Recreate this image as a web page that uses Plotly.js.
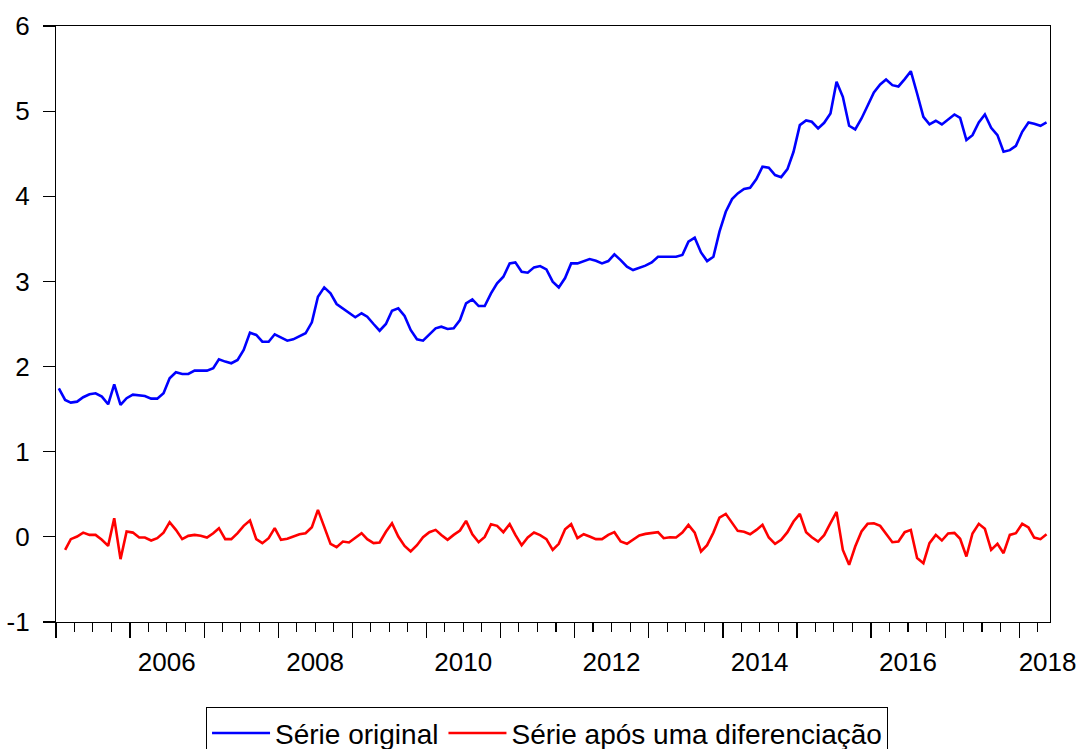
<!DOCTYPE html>
<html>
<head>
<meta charset="utf-8">
<script src="https://cdn.plot.ly/plotly-3.0.1.min.js"></script>
<style>html,body{margin:0;padding:0;background:#fff;}#chart{width:1083px;height:749px;}</style>
</head>
<body>
<div id="chart"></div>
<script>
// Monthly series starting January 2005
const startYear = 2005;
const seriesOriginal = [
1.745,1.608,1.577,1.588,1.640,1.675,1.686,1.647,1.557,1.792,1.549,1.628,
1.670,1.659,1.655,1.623,1.623,1.686,1.862,1.933,1.913,1.913,1.952,1.952,
1.952,1.980,2.085,2.058,2.039,2.077,2.195,2.398,2.371,2.292,2.292,2.379,
2.339,2.304,2.320,2.359,2.391,2.520,2.820,2.930,2.860,2.735,2.684,2.626,
2.579,2.626,2.586,2.500,2.421,2.500,2.656,2.684,2.594,2.430,2.320,2.304,
2.371,2.449,2.468,2.441,2.449,2.547,2.743,2.790,2.711,2.711,2.860,2.977,
3.055,3.212,3.224,3.114,3.102,3.165,3.180,3.142,2.997,2.930,3.040,3.212,
3.212,3.239,3.263,3.243,3.212,3.239,3.318,3.251,3.173,3.134,3.161,3.185,
3.224,3.290,3.290,3.290,3.290,3.310,3.466,3.513,3.341,3.239,3.290,3.584,
3.818,3.967,4.034,4.085,4.100,4.202,4.347,4.335,4.249,4.225,4.319,4.523,
4.836,4.890,4.875,4.797,4.863,4.973,5.344,5.168,4.828,4.785,4.914,5.063,
5.219,5.313,5.372,5.305,5.290,5.376,5.469,5.207,4.933,4.844,4.887,4.844,
4.906,4.961,4.922,4.660,4.718,4.867,4.961,4.804,4.718,4.523,4.542,4.593,
4.757,4.867,4.851,4.828,4.867
];
// Differenced series starts February 2005
const seriesDiff = [
-0.153,-0.027,0.004,0.050,0.023,0.023,-0.035,-0.106,0.219,-0.262,0.062,
0.050,-0.008,-0.008,-0.043,-0.016,0.050,0.172,0.082,-0.027,0.012,0.023,0.012,
-0.008,0.043,0.102,-0.027,-0.027,0.043,0.129,0.191,-0.027,-0.074,-0.016,0.102,
-0.035,-0.023,0.004,0.031,0.043,0.113,0.317,0.120,-0.082,-0.121,-0.055,-0.066,
-0.016,0.043,-0.027,-0.074,-0.066,0.060,0.160,0.004,-0.106,-0.172,-0.098,-0.004,
0.055,0.082,0.023,-0.035,0.023,0.074,0.188,0.031,-0.063,0.000,0.149,0.129,
0.055,0.149,0.023,-0.098,-0.008,0.050,0.020,-0.027,-0.153,-0.082,0.090,0.149,
-0.016,0.031,0.004,-0.027,-0.027,0.023,0.055,-0.055,-0.082,-0.035,0.016,0.035,
0.043,0.055,-0.016,-0.004,-0.008,0.050,0.141,0.050,-0.172,-0.098,0.050,0.227,
0.270,0.168,0.070,0.059,0.031,0.082,0.141,-0.008,-0.082,-0.035,0.055,0.180,
0.270,0.055,-0.004,-0.055,0.020,0.160,0.293,-0.153,-0.329,-0.114,0.063,0.153,
0.160,0.129,0.043,-0.063,-0.055,0.055,0.082,-0.250,-0.309,-0.074,0.023,-0.043,
0.040,0.047,-0.023,-0.231,0.040,0.153,0.094,-0.153,-0.082,-0.192,0.023,0.043,
0.153,0.110,-0.008,-0.027,0.031
];
const yearLabels = ['2006','2008','2010','2012','2014','2016','2018'];
const yearLabelPos = ['2006-07-01','2008-07-01','2010-07-01','2012-07-01','2014-07-01','2016-07-01','2018-05-20'];
const yTickVals = [-1, 0, 1, 2, 3, 4, 5, 6];
const yTickText = ['-1', '0', '1', '2', '3', '4', '5', '6'];
const seriesNames = ['Série original','Série após uma diferenciação'];

function monthDate(i){
  const y = startYear + Math.floor(i/12);
  const m = (i % 12) + 1;
  return y + '-' + (m < 10 ? '0' + m : m) + '-15';
}
const xOrig = seriesOriginal.map((_, i) => monthDate(i));
const xDiff = seriesDiff.map((_, i) => monthDate(i + 1));

const FONT = 'Liberation Sans, Arial, sans-serif';
const xr = ['2005-01-01','2018-06-01'];

const traces = [
  {x: xOrig, y: seriesOriginal, type: 'scatter', mode: 'lines', name: seriesNames[0],
   line: {color: '#0000FF', width: 2.6}},
  {x: xDiff, y: seriesDiff, type: 'scatter', mode: 'lines', name: seriesNames[1],
   xaxis: 'x2', line: {color: '#FF0000', width: 2.6}}
];

const layout = {
  width: 1083, height: 749,
  margin: {l: 56, r: 33, t: 26, b: 127, autoexpand: false},
  paper_bgcolor: '#fff', plot_bgcolor: '#fff',
  font: {family: FONT, size: 26, color: '#000'},
  showlegend: true,
  legend: {orientation: 'h', x: 0.494, xanchor: 'center', y: -0.143, yanchor: 'top',
           bordercolor: '#000', borderwidth: 1, font: {family: FONT, size: 28, color: '#000'},
           itemwidth: 58},
  xaxis: {type: 'date', range: xr, showgrid: false, zeroline: false,
          showline: true, linecolor: '#000', linewidth: 1.2, mirror: true,
          tickmode: 'linear', tick0: '2005-01-01', dtick: 'M12',
          ticks: 'outside', ticklen: 15, tickcolor: '#000', tickwidth: 1.2,
          showticklabels: false,
          minor: {tick0: '2005-01-01', dtick: 'M3', ticks: 'outside', ticklen: 9, tickcolor: '#000', tickwidth: 1.2, showgrid: false}},
  xaxis2: {type: 'date', range: xr, overlaying: 'x', anchor: 'y', side: 'bottom',
           showgrid: false, zeroline: false, showline: false, ticks: '',
           tickmode: 'array', tickvals: yearLabelPos, ticktext: yearLabels,
           ticklabelstandoff: 22, tickfont: {family: FONT, size: 26, color: '#000'}},
  yaxis: {range: [-1, 6], tickmode: 'array', tickvals: yTickVals, ticktext: yTickText,
          showgrid: false, zeroline: false,
          showline: true, linecolor: '#000', linewidth: 1.2, mirror: true,
          ticks: 'outside', ticklen: 12, tickcolor: '#000', tickwidth: 1.2,
          ticklabelstandoff: 8, tickfont: {family: FONT, size: 26, color: '#000'}}
};

Plotly.newPlot('chart', traces, layout, {displayModeBar: false, staticPlot: true});
</script>
</body>
</html>
